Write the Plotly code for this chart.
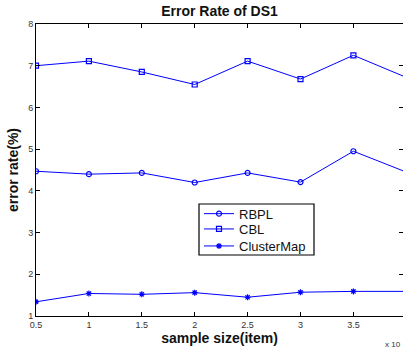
import plotly.graph_objects as go

sample_size = [0.5, 1.0, 1.5, 2.0, 2.5, 3.0, 3.5, 4.0]
rbpl = [4.47, 4.40, 4.43, 4.20, 4.43, 4.21, 4.95, 4.45]
cbl = [7.0, 7.11, 6.85, 6.55, 7.11, 6.68, 7.25, 6.72]
clustermap = [1.34, 1.54, 1.52, 1.56, 1.45, 1.57, 1.59, 1.59]
x_ticks = [0.5, 1, 1.5, 2, 2.5, 3, 3.5]
x_tick_labels = ["0.5", "1", "1.5", "2", "2.5", "3", "3.5"]
y_ticks = [1, 2, 3, 4, 5, 6, 7, 8]

BLUE = "#0000FF"
FONT = "Liberation Sans, Arial, sans-serif"

# plot area in pixels (for converting layout positions)
L, R, T, B = 36, 403, 24, 316
def px_x(p):
    return (p - L) / (R - L)
def px_y(p):
    return (B - p) / (B - T)

fig = go.Figure()
fig.add_trace(go.Scatter(x=sample_size, y=rbpl, name="RBPL", mode="lines+markers", legend="legend",
                         line=dict(color=BLUE, width=1),
                         marker=dict(symbol="circle-open", size=5, color=BLUE, line=dict(width=1.2))))
fig.add_trace(go.Scatter(x=sample_size, y=cbl, name="CBL", mode="lines+markers", legend="legend2",
                         line=dict(color=BLUE, width=1),
                         marker=dict(symbol="square-open", size=5, color=BLUE, line=dict(width=1.2))))
fig.add_trace(go.Scatter(x=sample_size, y=clustermap, name="ClusterMap", mode="lines+markers", legend="legend3",
                         line=dict(color=BLUE, width=1),
                         marker=dict(symbol="asterisk-open", size=5, color=BLUE, line=dict(width=1.2, color=BLUE))))

legend_common = dict(xanchor="left", yanchor="middle", bgcolor="rgba(0,0,0,0)", borderwidth=0,
                     font=dict(size=13, family=FONT, color="#111"), itemwidth=30)
leg_x = px_x(199)

fig.update_layout(
    width=403, height=349,
    margin=dict(l=L, r=0, t=T, b=349 - B),
    paper_bgcolor="white", plot_bgcolor="white",
    font=dict(family=FONT, color="black"),
    title=dict(text="<b>Error Rate of DS1</b>", x=0.5, xref="paper", xanchor="center",
               y=1 - 11 / 349, yanchor="middle", yref="container",
               font=dict(size=14, family=FONT, color="#111")),
    showlegend=True,
    legend=dict(x=leg_x, y=px_y(213.7), **legend_common),
    legend2=dict(x=leg_x, y=px_y(229), **legend_common),
    legend3=dict(x=leg_x, y=px_y(246), **legend_common),
    xaxis=dict(range=[0.5, 0.5 + (R - L) / 52.9 * 0.5], tickvals=x_ticks, ticktext=x_tick_labels,
               showgrid=False, zeroline=False, showline=True, linecolor="black", linewidth=1,
               mirror="ticks", ticks="inside", ticklen=4, tickcolor="black",
               tickfont=dict(size=9, color="#333", family=FONT),
               title=dict(text="<b>sample size(item)</b>", font=dict(size=14, family=FONT, color="#111"),
                          standoff=2)),
    yaxis=dict(range=[1, 8], tickvals=y_ticks,
               showgrid=False, zeroline=False, showline=True, linecolor="black", linewidth=1,
               mirror="ticks", ticks="inside", ticklen=4, tickcolor="black",
               tickfont=dict(size=9, color="#333", family=FONT),
               title=dict(text="<b>error rate(%)</b>", font=dict(size=14, family=FONT, color="#111"),
                          standoff=6)),
)

# legend frame
fig.add_shape(type="rect", xref="paper", yref="paper",
              x0=px_x(199), x1=px_x(314), y0=px_y(255), y1=px_y(204),
              line=dict(color="black", width=1.2), fillcolor="white", layer="above")
# put frame below legend text: legends are drawn above shapes anyway

fig.add_annotation(text="x 10", xref="paper", yref="paper", x=1.0, y=-0.075,
                   xanchor="right", yanchor="top", showarrow=False,
                   font=dict(size=8, color="#333", family=FONT))

fig.write_html("out.html", config={"displayModeBar": False},
               post_script="document.body.style.margin='0';document.body.style.overflow='hidden';")
